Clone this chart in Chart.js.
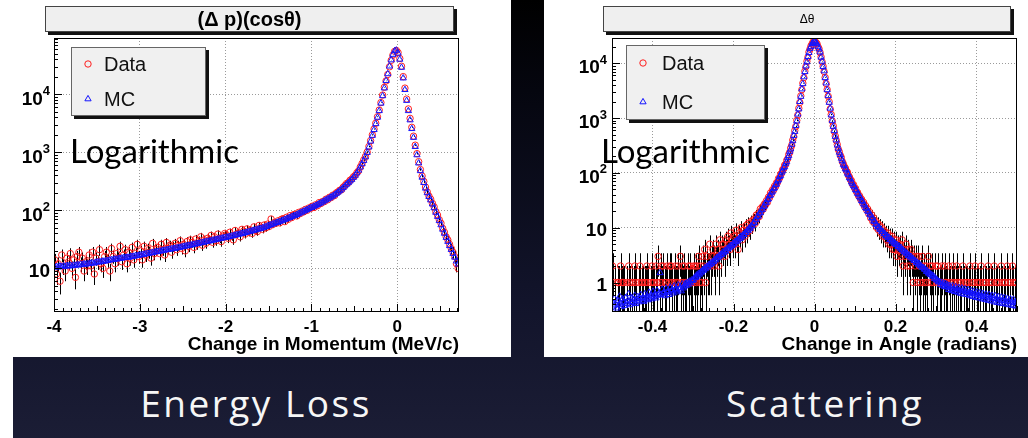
<!DOCTYPE html>
<html>
<head>
<meta charset="utf-8">
<script src="https://cdn.jsdelivr.net/npm/chart.js@4.4.0/dist/chart.umd.min.js"></script>
<style>
html,body{margin:0;padding:0;}
body{width:1028px;height:438px;position:relative;overflow:hidden;
  background:linear-gradient(180deg,#000 0px,#05060f 90px,#12142b 300px,#1b1d35 438px);}
.panel{position:absolute;background:#fff;}
.strip{position:absolute;left:0;top:357px;width:13px;height:81px;background:#fff;}
canvas{position:absolute;}
.tbox{position:absolute;box-sizing:border-box;height:26px;background:#efefef;border:1px solid #444;
  box-shadow:3px 3px 0 #111;text-align:center;font-family:'Liberation Sans',Arial,sans-serif;color:#000;}
.big{position:absolute;font-family:Lato,'Open Sans',sans-serif;line-height:1;white-space:nowrap;}
.slide{position:absolute;font-family:'Open Sans',Lato,sans-serif;line-height:1;white-space:nowrap;color:#f6f6f6;
  transform:translateX(-50%);letter-spacing:2.5px;}
</style>
</head>
<body>
<div class="panel" style="left:0;top:0;width:511px;height:357px;"></div>
<div class="panel" style="left:544px;top:0;width:484px;height:357px;"></div>
<div class="strip"></div>
<canvas id="left" width="511" height="357" style="left:0;top:0;"></canvas>
<canvas id="right" width="484" height="357" style="left:544px;top:0;"></canvas>
<div class="tbox" style="left:45px;top:6px;width:409px;font-size:20px;font-weight:bold;line-height:24px;">(Δ p)(cosθ)</div>
<div class="tbox" style="left:603px;top:6px;width:408px;font-size:12px;line-height:24px;">Δθ</div>
<div class="big" style="left:70px;top:134px;font-size:33px;">Logarithmic</div>
<div class="big" style="left:601px;top:134px;font-size:33px;">Logarithmic</div>
<div class="slide" style="left:256px;top:384px;font-size:37px;">Energy Loss</div>
<div class="slide" style="left:825px;top:384px;font-size:37px;">Scattering</div>
<script>
// ---------- Energy loss: (Δp)(cosθ), bins of 0.02 MeV/c, first bin centre -3.99 ----------
const leftBinStart = -3.99;
const leftBinWidth = 0.02;
const leftXTicks = [-4, -3, -2, -1, 0];
const leftYTicks = [10, 100, 1000, 10000];
const leftXTitle = 'Change in Momentum (MeV/c)';
const leftMC = [
 10.4,10.7,10.5,10.9,10.6,11.0,10.8,11.1,10.9,11.2,
 11.0,11.3,11.2,11.5,11.4,11.7,11.5,11.9,11.7,12.0,
 12.0,12.2,12.4,12.3,12.7,12.9,12.8,13.1,13.3,13.2,
 13.5,13.6,13.9,14.0,14.1,14.4,14.3,14.7,14.8,15.0,
 15.1,15.3,15.5,15.4,15.8,16.0,16.1,16.4,16.5,16.8,
 16.9,17.2,17.4,17.7,18.0,18.1,18.5,18.7,19.0,19.2,
 19.4,19.7,19.9,20.3,20.5,20.8,21.0,21.4,21.5,21.9,
 22.1,22.4,22.8,23.0,23.4,23.7,24.1,24.4,24.8,25.1,
 25.4,25.9,26.2,26.7,27.0,27.5,27.9,28.3,28.8,29.1,
 29.5,29.9,30.5,30.9,31.4,31.8,32.4,32.9,33.3,33.8,
 34.2,34.8,35.3,36.0,36.5,37.2,37.8,38.5,39.1,39.8,
 40.4,41.2,41.9,42.7,43.5,44.3,45.2,46.0,46.9,47.8,
 48.6,49.8,51.0,52.3,53.6,55.0,56.5,58.0,59.6,61.2,
 62.3,64.0,65.7,67.5,69.4,71.3,73.3,75.4,77.6,79.8,
 81.5,84.2,87.0,90.0,93.1,96.3,99.6,103,107,111,
 113,117,121,125,130,134,139,145,151,157,
 163,170,177,185,195,205,217,230,245,262,
 280,298,318,340,368,400,440,490,555,630,
 720,830,990,1230,1550,1950,2450,3100,4000,5200,
 7000,9400,12800,17200,22500,30500,39000,48500,56000,57500,
 51000,40000,29000,19000,12000,7800,5200,3600,2550,1800,
 1250,900,650,480,370,300,240,200,172,150,
 128,110,92,78,66,56,47,40,34,29,
 24.5,21,18,15.5,13.3,11.8];
const leftData = [
 14,8,12,6,17,11,9,15,13,18,
 10,14,7,16,19,12,15,9,13,11,
 17,11,19,8,15,13,21,12,10,16,
 19,14,9,22,16,12,18,15,24,13,
 17,21,12,19,15,23,14,18,26,16,
 20,14,24,17,22,19,15,27,18,21,
 23,18,26,21,17,28,22,25,19,24,
 27,21,25,30,22,26,20,29,24,31,
 28,23,32,26,30,35,25,31,27,33,
 31,37,28,35,30,39,33,29,36,40,
 38,33,42,36,31,45,39,41,35,47,
 44,39,48,42,46,40,52,45,43,55,
 51,47,56,50,58,53,71,57,62,60,
 66,61,70,72,64,76,70,81,75,84,
 86,80,92,88,97,94,104,100,110,108,
 118,112,125,120,136,131,142,141,156,152,
 168,166,183,180,200,208,222,226,250,268,
 290,300,330,345,378,400,445,480,560,640,
 740,850,1010,1260,1590,2000,2520,3180,4100,5350,
 7200,9700,13200,17000,22000,29800,38500,47500,55000,57000,
 52500,41500,30500,20200,12800,8300,5600,3850,2700,1900,
 1330,950,690,505,390,315,252,208,176,156,
 132,115,95,83,69,60,49,42,35,31,
 26,22,19,16,12,10];

// ---------- Scattering: Δθ, bins of 0.0025 rad, first bin centre -0.49875 ----------
const rightBinStart = -0.49875;
const rightBinWidth = 0.0025;
const rightXTicks = [-0.4, -0.2, 0, 0.2, 0.4];
const rightYTicks = [1, 10, 100, 1000, 10000];
const rightXTitle = 'Change in Angle (radians)';
const rightMC = [
 0.43,0.37,0.51,0.40,0.34,0.47,0.39,0.56,0.42,0.36,
 0.50,0.44,0.38,0.53,0.41,0.47,0.62,0.39,0.45,0.52,
 0.43,0.49,0.58,0.41,0.46,0.55,0.44,0.51,0.60,0.47,
 0.53,0.45,0.62,0.50,0.57,0.48,0.66,0.52,0.59,0.50,
 0.69,0.55,0.61,0.52,0.72,0.58,0.64,1.5,0.60,0.75,
 0.62,0.68,0.57,0.78,0.65,0.71,0.60,0.82,0.69,0.74,
 0.64,0.86,0.72,0.78,0.67,0.90,0.75,0.81,0.70,0.94,
 0.79,0.85,0.96,0.88,1.0,0.92,1.05,0.98,1.1,1.08,
 1.13,1.24,1.22,1.36,1.3,1.46,1.41,1.55,1.53,1.68,
 1.66,1.83,1.77,1.96,1.9,2.1,2.08,2.25,2.22,2.41,
 2.38,2.64,2.56,2.84,2.8,3.05,3.02,3.26,3.22,3.58,
 3.46,3.8,3.7,4.12,4.08,4.42,4.38,4.74,4.66,5.12,
 4.98,5.55,5.45,5.92,5.85,6.38,6.32,6.98,6.75,7.4,
 7.42,8.1,8.12,8.95,8.88,9.8,9.7,10.8,10.7,12.0,
 12.3,13.9,14.1,15.9,16.2,18.3,18.6,21.0,21.4,24.0,
 24.6,28.2,28.9,32.4,33.2,38.1,39.0,43.8,45.9,51.2,
 53,60.5,61.8,70.6,74.5,85,89,102,108,123,
 129,148,159,190,205,245,270,330,382,478,
 565,725,875,1170,1455,1985,2470,3370,4200,5600,
 6960,8850,10500,13100,15500,18500,20100,22700,23700,25300,
 25000,23900,22500,20200,18100,15900,12800,10800,8600,7200,
 5400,4330,3260,2540,1920,1500,1130,900,700,585,
 460,395,318,279,236,213,183,165,142,134,
 118,112,98,93,81,77,68,64,58,55,
 49,47.8,42,40.6,36.5,34.6,31,30.1,27,25.6,
 23,22.3,20,19.5,17.5,16.9,15.2,14.8,13.2,12.9,
 11.5,11.2,10.3,10.2,9.3,9.3,8.5,8.5,7.7,7.8,
 7.0,7.1,6.6,6.7,6.0,6.1,5.6,5.7,5.2,5.2,
 4.9,4.9,4.5,4.6,4.2,4.3,3.9,3.9,3.6,3.6,
 3.4,3.4,3.1,3.15,2.9,2.95,2.7,2.68,2.5,2.5,
 2.3,2.34,2.14,2.2,2.0,1.99,1.86,1.86,1.74,1.74,
 1.58,1.63,1.47,1.5,1.38,1.4,1.29,1.32,1.17,1.2,
 1.1,1.1,1.02,1.03,0.92,1.0,0.88,0.97,0.84,0.95,
 0.82,0.9,0.74,0.88,0.79,0.71,0.86,0.77,0.68,0.84,
 0.75,0.66,0.81,0.72,0.63,0.79,0.7,0.61,0.76,0.68,
 0.6,0.74,0.65,0.57,0.71,0.63,0.55,0.69,0.61,0.53,
 0.67,0.59,0.52,0.65,0.57,0.5,0.63,0.55,0.49,0.61,
 0.54,0.47,0.6,0.52,0.46,0.58,0.51,0.44,0.57,0.5,
 0.43,0.55,0.48,0.42,0.54,0.47,0.41,0.53,0.46,0.4,
 0.51,0.45,0.39,0.5,0.44,0.38,0.49,0.43,0.37,0.46];
const rightData = [
 2,0,1,0,0,1,1,0,2,1,
 1,1,0,0,1,0,2,1,0,1,
 0,1,2,1,0,0,1,2,0,1,
 1,0,1,1,2,1,0,0,1,2,
 1,1,0,2,1,3,0,1,2,1,
 2,0,1,1,2,0,1,2,2,1,
 0,1,2,1,1,2,0,3,1,2,
 1,2,1,1,0,2,1,2,1,1,
 2,1,2,1,2,3,1,2,1,3,
 2,4,1,3,2,2,5,2,3,4,
 3,2,5,3,4,2,6,3,5,4,
 5,3,6,4,7,5,4,8,6,5,
 7,5,9,6,4,8,7,10,6,9,
 9,7,11,8,12,10,9,13,11,14,
 14,12,17,15,18,16,22,20,24,22,
 27,26,31,29,36,35,43,41,49,48,
 57,56,66,67,79,80,94,98,114,118,
 138,142,168,180,215,236,283,318,395,460,
 590,700,905,1130,1500,1920,2530,3290,4320,5450,
 7150,8650,10800,12800,15900,18000,20600,22200,24300,24900,
 25200,23700,22700,20000,18300,15700,13000,10600,8750,7050,
 5500,4250,3300,2500,1980,1460,1160,880,720,570,
 470,390,328,270,242,208,190,160,146,130,
 122,108,103,90,84,75,72,62,61,53,
 52,45,44,38,38,33,33,28,29,24,
 25,21,22,18,19,15,17,13,15,12,
 13,10,12,9,11,8,10,7,9,7,
 8,6,8,5,7,5,7,4,6,4,
 6,3,5,4,5,3,6,2,4,3,
 5,2,4,3,2,4,3,1,3,2,
 3,1,3,2,1,2,3,1,2,1,
 2,1,3,0,2,1,2,1,0,2,
 1,2,0,1,1,2,0,1,2,1,
 1,0,2,1,0,1,2,1,0,1,
 2,1,0,1,1,0,2,1,0,1,
 1,0,1,2,0,1,0,1,2,0,
 1,1,0,1,2,0,1,0,1,1,
 0,2,1,0,1,1,0,2,0,1,
 1,0,1,0,2,1,0,1,1,0,
 2,1,0,1,0,2,1,0,1,1];

const seriesLabels = { data: 'Data', mc: 'MC' };

// ---------- helpers ----------
function toPoints(start, width, vals) {
  return vals.map((v, i) => ({ x: +(start + i * width).toFixed(5), y: v > 0 ? v : null }));
}

const FONT = "'Liberation Sans', Arial, Helvetica, sans-serif";

const rootPlugin = {
  id: 'rootStyle',
  beforeDatasetsDraw(chart, args, o) {
    const { ctx, chartArea: a } = chart;
    const x = chart.scales.x, y = chart.scales.y;
    ctx.save();
    ctx.beginPath(); ctx.rect(a.left, a.top, a.right - a.left, a.bottom - a.top); ctx.clip();
    ctx.strokeStyle = '#000'; ctx.lineWidth = 1;
    chart.data.datasets.forEach(ds => {
      if (!ds.errorBars) return;
      ds.data.forEach(p => {
        if (p.y == null) return;
        const e = Math.sqrt(p.y);
        const px = Math.round(x.getPixelForValue(p.x)) + 0.5;
        const top = y.getPixelForValue(p.y + e);
        const lo = p.y - e;
        const bot = lo > 0 ? y.getPixelForValue(lo) : a.bottom;
        ctx.beginPath(); ctx.moveTo(px, top); ctx.lineTo(px, bot); ctx.stroke();
      });
    });
    ctx.restore();
  },
  afterDraw(chart, args, o) {
    const { ctx, chartArea: a } = chart;
    const x = chart.scales.x, y = chart.scales.y;
    ctx.save();
    ctx.strokeStyle = '#000'; ctx.lineWidth = 1;
    ctx.strokeRect(a.left + 0.5, a.top + 0.5, a.right - a.left - 1, a.bottom - a.top - 1);
    const k0 = Math.ceil(x.min / o.xMinor - 1e-6), k1 = Math.floor(x.max / o.xMinor + 1e-6);
    for (let k = k0; k <= k1; k++) {
      const v = k * o.xMinor;
      const isMaj = Math.abs(v / o.xMajor - Math.round(v / o.xMajor)) < 1e-6;
      const isMid = Math.abs(v / o.xMid - Math.round(v / o.xMid)) < 1e-6;
      const len = isMaj ? 8 : (isMid ? 6 : 4);
      const px = Math.round(x.getPixelForValue(v)) + 0.5;
      ctx.beginPath(); ctx.moveTo(px, a.bottom); ctx.lineTo(px, a.bottom - len); ctx.stroke();
    }
    const d0 = Math.floor(Math.log10(y.min)), d1 = Math.ceil(Math.log10(y.max));
    for (let d = d0; d <= d1; d++) {
      for (let m = 1; m <= 9; m++) {
        const v = m * Math.pow(10, d);
        if (v < y.min || v > y.max) continue;
        const len = m === 1 ? 8 : 4;
        const py = Math.round(y.getPixelForValue(v)) + 0.5;
        ctx.beginPath(); ctx.moveTo(a.left, py); ctx.lineTo(a.left + len, py); ctx.stroke();
      }
    }
    ctx.fillStyle = '#000';
    ctx.textBaseline = 'middle';
    ctx.textAlign = 'right';
    y.ticks.forEach(t => {
      const v = t.value;
      const e = Math.round(Math.log10(v));
      const py = y.getPixelForValue(v);
      const right = a.left - o.yLabelGap;
      if (e <= 1) {
        ctx.font = 'bold ' + o.yFont + 'px ' + FONT;
        ctx.fillText(String(v), right, py + 3);
      } else {
        ctx.font = 'bold ' + o.yExpFont + 'px ' + FONT;
        const s = String(e);
        const w = ctx.measureText(s).width;
        ctx.fillText(s, right, py - 3);
        ctx.font = 'bold ' + o.yFont + 'px ' + FONT;
        ctx.fillText('10', right - w, py + 5);
      }
    });
    const L = o.legend;
    ctx.fillStyle = '#111';
    ctx.fillRect(L.x + 3, L.y + 3, L.w, L.h);
    ctx.fillStyle = '#f0f0f0';
    ctx.fillRect(L.x, L.y, L.w, L.h);
    ctx.strokeStyle = '#666';
    ctx.strokeRect(L.x + 0.5, L.y + 0.5, L.w - 1, L.h - 1);
    ctx.textAlign = 'left';
    ctx.textBaseline = 'alphabetic';
    ctx.font = L.font + 'px ' + FONT;
    chart.data.datasets.forEach(ds => {
      const cy = L.rowY[ds.legendRow];
      ctx.strokeStyle = ds.pointBorderColor;
      ctx.fillStyle = 'rgba(0,0,0,0)';
      ctx.lineWidth = 1;
      Chart.helpers.drawPoint(ctx, { pointStyle: ds.pointStyle, radius: ds.pointRadius, borderWidth: 1, rotation: 0 }, L.markerX, cy);
      ctx.fillStyle = '#111';
      ctx.fillText(ds.label, L.textX, cy + L.font * 0.36);
    });
    ctx.restore();
  }
};

function makeChart(id, cfg) {
  return new Chart(document.getElementById(id), {
    type: 'scatter',
    data: {
      datasets: [
        { label: seriesLabels.mc, data: toPoints(cfg.start, cfg.width, cfg.mc),
          pointStyle: 'triangle', pointRadius: 3.6, pointBorderWidth: 1,
          pointBorderColor: 'rgb(20,20,255)', pointBackgroundColor: 'rgba(0,0,0,0)', legendRow: 1 },
        { label: seriesLabels.data, data: toPoints(cfg.start, cfg.width, cfg.data),
          pointStyle: 'circle', pointRadius: 3.2, pointBorderWidth: 1,
          pointBorderColor: 'rgb(255,30,30)', pointBackgroundColor: 'rgba(0,0,0,0)',
          errorBars: true, legendRow: 0 }
      ]
    },
    options: {
      responsive: false, animation: false, devicePixelRatio: 1, events: [],
      layout: { padding: cfg.padding },
      plugins: {
        legend: { display: false }, tooltip: { enabled: false }, title: { display: false },
        rootStyle: cfg.root
      },
      scales: {
        x: {
          type: 'linear', min: cfg.xMin, max: cfg.xMax,
          afterBuildTicks: s => { s.ticks = cfg.xTicks.map(v => ({ value: v })); },
          afterFit: s => { s.height = 45; },
          grid: { color: '#9a9a9a', lineWidth: 1, drawTicks: false },
          border: { display: false, dash: [1, 2] },
          ticks: { color: '#000', padding: 5, maxRotation: 0, autoSkip: false,
                   font: { family: FONT, size: 17, weight: 'bold' },
                   callback: v => String(v) },
          title: { display: true, text: cfg.xTitle, align: 'end', color: '#000',
                   font: { family: FONT, size: 19, weight: 'bold', lineHeight: 1.2 },
                   padding: { top: 0, bottom: 1 } }
        },
        y: {
          type: 'logarithmic', min: cfg.yMin, max: cfg.yMax,
          afterBuildTicks: s => { s.ticks = cfg.yTicks.map(v => ({ value: v })); },
          afterFit: s => { s.width = cfg.yWidth; },
          grid: { color: '#9a9a9a', lineWidth: 1, drawTicks: false },
          border: { display: false, dash: [1, 2] },
          ticks: { display: false }
        }
      }
    },
    plugins: [rootPlugin]
  });
}

makeChart('left', {
  start: leftBinStart, width: leftBinWidth, mc: leftMC, data: leftData,
  xMin: -4, xMax: 0.72, yMin: 1.77, yMax: 93500,
  xTicks: leftXTicks, yTicks: leftYTicks, xTitle: leftXTitle,
  yWidth: 54, padding: { left: 0, top: 38, right: 52, bottom: 0 },
  root: { xMinor: 0.1, xMid: 0.5, xMajor: 1, yFont: 19, yExpFont: 13, yLabelGap: 4,
          legend: { x: 71, y: 47, w: 135, h: 69, rowY: [64, 99], markerX: 88, textX: 104, font: 20 } }
});

makeChart('right', {
  start: rightBinStart, width: rightBinWidth, mc: rightMC, data: rightData,
  xMin: -0.5, xMax: 0.5, yMin: 0.29, yMax: 28800,
  xTicks: rightXTicks, yTicks: rightYTicks, xTitle: rightXTitle,
  yWidth: 68, padding: { left: 0, top: 38, right: 11, bottom: 0 },
  root: { xMinor: 0.02, xMid: 0.1, xMajor: 0.2, yFont: 19, yExpFont: 13, yLabelGap: 5,
          legend: { x: 82, y: 45, w: 139, h: 75, rowY: [63, 102], markerX: 99, textX: 118, font: 20 } }
});
</script>
</body>
</html>
